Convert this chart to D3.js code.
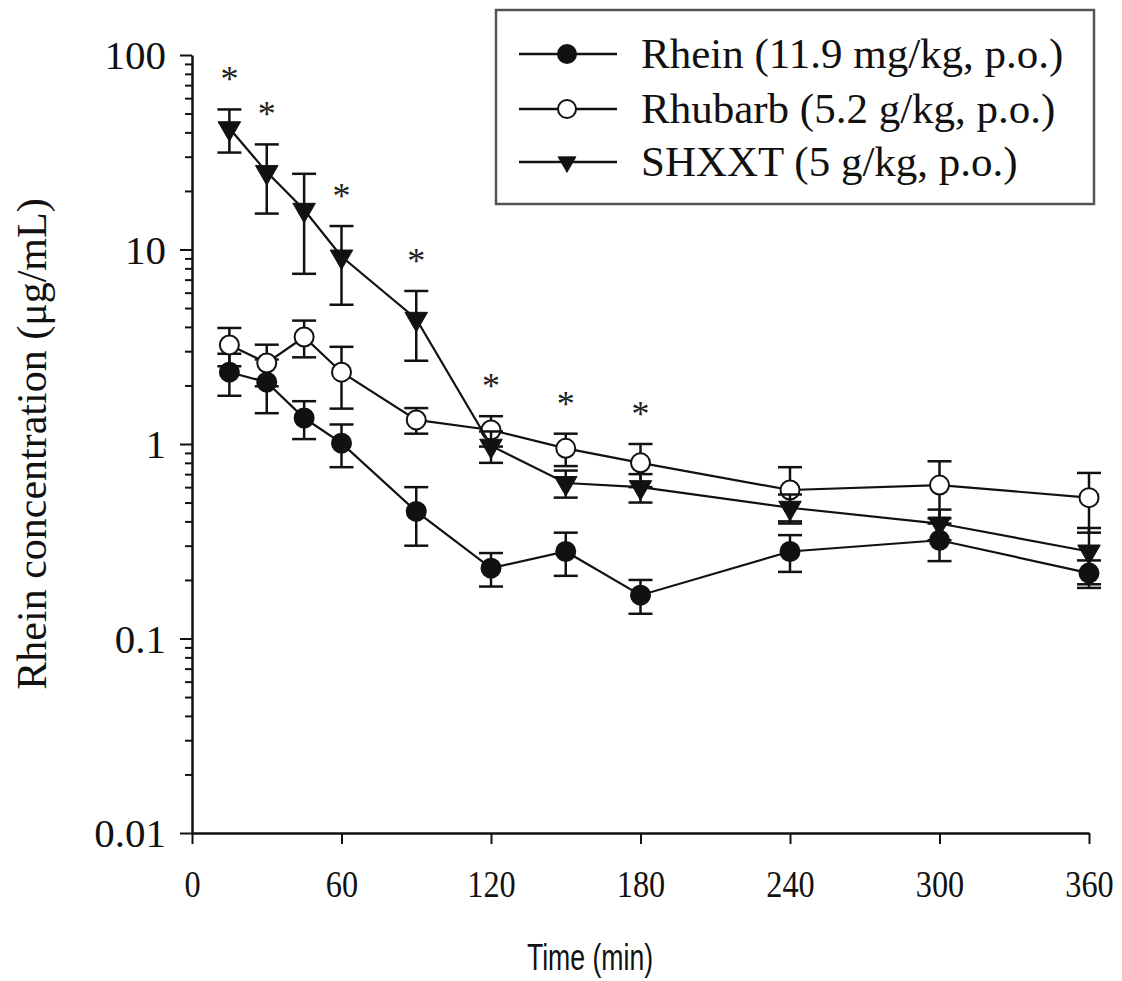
<!DOCTYPE html>
<html>
<head>
<meta charset="utf-8">
<script src="https://cdnjs.cloudflare.com/ajax/libs/d3/7.8.5/d3.min.js"></script>
<style>
  html, body { margin: 0; padding: 0; background: #fff; }
  svg { display: block; }
</style>
</head>
<body>
<svg id="chart" width="1122" height="981"></svg>
<script>
// Sampling times (min)
const times = [15, 30, 45, 60, 90, 120, 150, 180, 240, 300, 360];

// Mean plasma rhein concentration (µg/mL) and SD for each treatment
const rheinMean   = [2.34, 2.08, 1.36, 1.01, 0.45, 0.23, 0.28, 0.167, 0.28, 0.32, 0.217];
const rheinSD     = [0.57, 0.64, 0.30, 0.25, 0.15, 0.045, 0.07, 0.033, 0.06, 0.07, 0.035];
const rhubarbMean = [3.23, 2.61, 3.55, 2.34, 1.33, 1.18, 0.95, 0.80, 0.58, 0.615, 0.53];
const rhubarbSD   = [0.72, 0.63, 0.76, 0.82, 0.20, 0.21, 0.18, 0.20, 0.18, 0.20, 0.18];
const shxxtMean   = [42, 25, 16, 9.2, 4.4, 0.98, 0.63, 0.60, 0.47, 0.39, 0.28];
const shxxtSD     = [10.5, 9.7, 8.5, 4.0, 1.72, 0.18, 0.10, 0.10, 0.08, 0.07, 0.09];

// Time points marked as significantly different
const sigTimes = [15, 30, 60, 90, 120, 150, 180];

// Axis ticks
const xTicks = [0, 60, 120, 180, 240, 300, 360];
const yTicks = [0.01, 0.1, 1, 10, 100];
const yTickLabels = ["0.01", "0.1", "1", "10", "100"];

const seriesNames = ["Rhein (11.9 mg/kg, p.o.)", "Rhubarb (5.2 g/kg, p.o.)", "SHXXT (5 g/kg, p.o.)"];
const seriesMarkers = ["filledCircle", "openCircle", "triangleDown"];

const series = [
  { name: seriesNames[0], marker: seriesMarkers[0], mean: rheinMean, sd: rheinSD },
  { name: seriesNames[1], marker: seriesMarkers[1], mean: rhubarbMean, sd: rhubarbSD },
  { name: seriesNames[2], marker: seriesMarkers[2], mean: shxxtMean, sd: shxxtSD }
];

const svg = d3.select("#chart");
const serif = "'Liberation Serif', 'Times New Roman', serif";
const sans = "'Liberation Sans', Arial, sans-serif";

const x = d3.scaleLinear().domain([0, 360]).range([192, 1089]);
const y = d3.scaleLog().domain([0.01, 100]).range([833, 55]);

// ---- axes ----
const xAxis = d3.axisBottom(x).tickValues(xTicks).tickSize(11).tickSizeOuter(0).tickFormat(d3.format("d"));
const gx = svg.append("g").attr("transform", `translate(0,${y(0.01)})`).call(xAxis);
gx.select(".domain").attr("stroke", "#111").attr("stroke-width", 2.5);
gx.selectAll(".tick line").attr("stroke", "#111").attr("stroke-width", 2);
gx.selectAll(".tick text")
  .attr("font-family", serif).attr("font-size", 38).attr("fill", "#111")
  .attr("dy", null).attr("y", 0)
  .attr("transform", "translate(0,64) scale(0.85,1)");

// y axis: decade ticks longer, minor ticks at 2..9
const minorTicks = [];
yTicks.slice(0, -1).forEach(d => { for (let k = 2; k <= 9; k++) minorTicks.push(d * k); });
const gy = svg.append("g").attr("transform", `translate(${x(0)},0)`);
gy.call(d3.axisLeft(y).tickValues(minorTicks).tickSize(7).tickSizeOuter(0).tickFormat(""));
gy.call(g => g.select(".domain").remove());
const gyMajor = svg.append("g").attr("transform", `translate(${x(0)},0)`)
  .call(d3.axisLeft(y).tickValues(yTicks).tickSize(12).tickSizeOuter(0)
    .tickFormat((d, i) => yTickLabels[i]));
gyMajor.select(".domain").attr("stroke", "#111").attr("stroke-width", 2.5);
svg.selectAll("g .tick line").attr("stroke", "#111").attr("stroke-width", 2);
gyMajor.selectAll(".tick text")
  .attr("font-family", serif).attr("font-size", 41).attr("fill", "#111")
  .attr("x", -26).attr("dy", "0.34em");

// axis titles
svg.append("text")
  .attr("transform", `translate(46,${(y(100) + y(0.01)) / 2}) rotate(-90)`)
  .attr("text-anchor", "middle")
  .attr("font-family", serif).attr("font-size", 42).attr("fill", "#111")
  .text("Rhein concentration (μg/mL)");

svg.append("text")
  .attr("transform", "translate(590,970) scale(0.72,1)")
  .attr("text-anchor", "middle")
  .attr("font-family", sans).attr("font-size", 37).attr("fill", "#111")
  .text("Time (min)");

// ---- markers ----
const triPath = d3.symbol().type(d3.symbolTriangle).size(220)();
function drawMarker(g, type, cx, cy, scale) {
  const s = scale || 1;
  if (type === "triangleDown") {
    g.append("path").attr("d", triPath)
      .attr("transform", `translate(${cx},${cy}) rotate(180) scale(${s})`)
      .attr("fill", "#111").attr("stroke", "#111").attr("stroke-width", 1);
  } else {
    g.append("circle").attr("cx", cx).attr("cy", cy).attr("r", 9.5 * s)
      .attr("fill", type === "openCircle" ? "#fff" : "#111")
      .attr("stroke", "#111").attr("stroke-width", 2);
  }
}

const line = d3.line().x(d => x(d.t)).y(d => y(d.v));

series.forEach(s => {
  const pts = times.map((t, i) => ({ t, v: s.mean[i], sd: s.sd[i] }));
  const g = svg.append("g");
  g.append("path").datum(pts).attr("d", line)
    .attr("fill", "none").attr("stroke", "#111").attr("stroke-width", 2.2);
  const eb = g.append("g").attr("stroke", "#111").attr("stroke-width", 2.5);
  pts.forEach(p => {
    const top = y(p.v + p.sd), bot = y(p.v - p.sd), cx = x(p.t);
    eb.append("line").attr("x1", cx).attr("x2", cx).attr("y1", top).attr("y2", bot);
    eb.append("line").attr("x1", cx - 12).attr("x2", cx + 12).attr("y1", top).attr("y2", top);
    eb.append("line").attr("x1", cx - 12).attr("x2", cx + 12).attr("y1", bot).attr("y2", bot);
  });
  pts.forEach(p => drawMarker(g, s.marker, x(p.t), y(p.v)));
});

// ---- significance asterisks above the highest whisker ----
sigTimes.forEach(t => {
  const i = times.indexOf(t);
  const topVal = d3.max(series, s => s.mean[i] + s.sd[i]);
  svg.append("text")
    .attr("x", x(t)).attr("y", y(topVal) - 18)
    .attr("text-anchor", "middle")
    .attr("font-family", serif).attr("font-size", 36).attr("fill", "#222")
    .text("*");
});

// ---- legend ----
const legend = svg.append("g");
legend.append("rect").attr("x", 496).attr("y", 10).attr("width", 598).attr("height", 194)
  .attr("fill", "#fff").attr("stroke", "#555").attr("stroke-width", 2.5);
const rowY = [54, 109, 162];
series.forEach((s, i) => {
  const ly = rowY[i];
  legend.append("line").attr("x1", 519).attr("x2", 617).attr("y1", ly).attr("y2", ly)
    .attr("stroke", "#111").attr("stroke-width", 2.5);
  drawMarker(legend, s.marker, 567, ly, s.marker === "triangleDown" ? 0.8 : 0.95);
  legend.append("text").attr("x", 641).attr("y", ly + 14)
    .attr("font-family", serif).attr("font-size", 43).attr("fill", "#111")
    .text(s.name);
});
</script>
</body>
</html>
